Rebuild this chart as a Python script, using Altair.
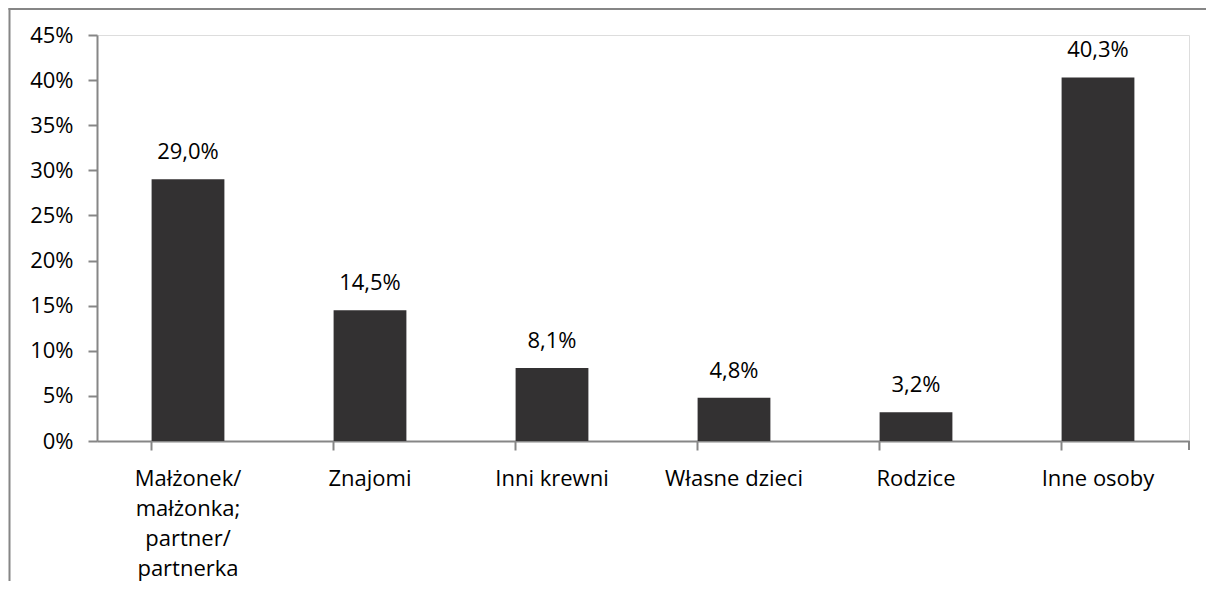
import altair as alt
import pandas as pd

categories = [
    "Małżonek/\nmałżonka;\npartner/\npartnerka",
    "Znajomi",
    "Inni krewni",
    "Własne dzieci",
    "Rodzice",
    "Inne osoby",
]
values = [29.0, 14.5, 8.1, 4.8, 3.2, 40.3]
y_ticks = [0, 5, 10, 15, 20, 25, 30, 35, 40, 45]

df = pd.DataFrame({"kategoria": categories, "wartosc": values})

FONT = "Open Sans"
FS = 22
GRAY = "#868686"
BAR = "#333132"

W, H = 1092, 406
PAD_R = 17

x_enc = alt.X(
    "kategoria:N",
    sort=None,
    scale=alt.Scale(paddingInner=0.6, paddingOuter=0.3),
    axis=alt.Axis(
        title=None,
        labelAngle=0,
        labelExpr="split(datum.label, '\\n')",
        labelFont=FONT,
        labelFontSize=FS,
        labelLineHeight=30,
        labelColor="black",
        labelPadding=18,
        labelBaseline="top",
        bandPosition=0,
        tickSize=9,
        tickColor=GRAY,
        tickWidth=2,
        domainColor=GRAY,
        domainWidth=2,
        labelLimit=400,
    ),
)
y_enc = alt.Y(
    "wartosc:Q",
    scale=alt.Scale(domain=[0, 45], nice=False),
    axis=alt.Axis(
        title=None,
        values=y_ticks,
        labelExpr="datum.value + '%'",
        labelFont=FONT,
        labelFontSize=FS,
        labelColor="black",
        labelPadding=15,
        tickSize=9,
        tickColor=GRAY,
        tickWidth=2,
        domainColor=GRAY,
        domainWidth=2,
        grid=False,
    ),
)

base = alt.Chart(df)
bars = base.mark_bar(color=BAR).encode(x=x_enc, y=y_enc)
labels = (
    base.transform_calculate(
        etykieta="replace(format(datum.wartosc, '.1f'), '.', ',') + '%'"
    )
    .mark_text(font=FONT, fontSize=FS, color="black", baseline="alphabetic", dy=-20)
    .encode(x=alt.X("kategoria:N", sort=None), y="wartosc:Q", text="etykieta:N")
)

deco = alt.Chart(alt.Data(values=[{}]))
frame_left = deco.mark_rect(color=GRAY, strokeWidth=0).encode(
    x=alt.value(-88.5), x2=alt.value(-86.5), y=alt.value(-27), y2=alt.value(600)
)
frame_top = deco.mark_rect(color=GRAY, strokeWidth=0).encode(
    x=alt.value(-88.5), x2=alt.value(W + PAD_R + 10), y=alt.value(-27), y2=alt.value(-25)
)
end_tick = deco.mark_rule(color=GRAY, strokeWidth=2).encode(
    x=alt.value(W), y=alt.value(H), y2=alt.value(H + 9)
)

chart = (
    alt.layer(bars, labels, frame_left, frame_top, end_tick)
    .properties(
        width=W,
        height=H,
        autosize=alt.AutoSizeParams(type="none"),
        padding={"left": 89, "top": 27, "right": PAD_R, "bottom": 140},
    )
    .configure_view(stroke=None)
    .configure(background="white")
)

chart.save("out.html", embed_options={"renderer": "svg", "actions": False})
